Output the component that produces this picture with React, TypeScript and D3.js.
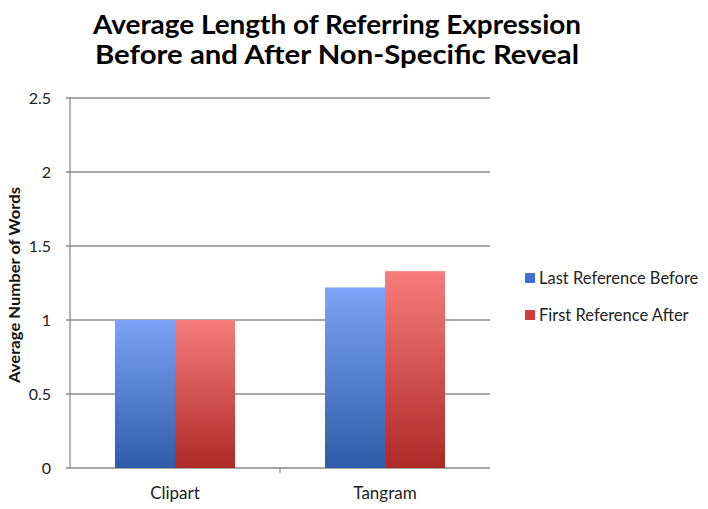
import React from 'react'
import * as d3 from 'd3'

const categories = ['Clipart', 'Tangram']
const seriesNames = ['Last Reference Before', 'First Reference After']
const lastBefore = [1.0, 1.22]
const firstAfter = [1.0, 1.33]
const yTicks = [0, 0.5, 1, 1.5, 2, 2.5]

const W = 708
const H = 509
const m = { left: 70, right: 490, top: 98, bottom: 468 }
const font = 'Lato, Carlito, "Open Sans", sans-serif'

const gradients = [
  { id: 'gBlue', top: '#7ea2f7', bottom: '#2e5ca8' },
  { id: 'gRed', top: '#f87c7c', bottom: '#ad2a28' },
]
const legendColors = ['#3f6fd0', '#d23c3c']

const App = () => {
  const x = d3.scaleBand().domain(categories).range([m.left, m.right])
  const inner = d3.scaleBand().domain(seriesNames).range([0, x.bandwidth()]).paddingOuter(0.75)
  const y = d3.scaleLinear().domain([0, 2.5]).range([m.bottom, m.top])
  const series = [lastBefore, firstAfter]

  return (
    <svg width={W} height={H} style={{ position: 'absolute', left: 0, top: 0, background: '#fff' }}>
      <defs>
        {gradients.map(g => (
          <linearGradient key={g.id} id={g.id} x1="0" y1="0" x2="0" y2="1">
            <stop offset="0%" stopColor={g.top} />
            <stop offset="100%" stopColor={g.bottom} />
          </linearGradient>
        ))}
      </defs>
      <text x={337} y={34} textAnchor="middle" fontFamily={font} fontWeight="bold" fontSize={26}
        textLength={488} lengthAdjust="spacingAndGlyphs">Average Length of Referring Expression</text>
      <text x={337} y={64} textAnchor="middle" fontFamily={font} fontWeight="bold" fontSize={26}
        textLength={484} lengthAdjust="spacingAndGlyphs">Before and After Non-Specific Reveal</text>

      {yTicks.map(t => (
        <g key={t}>
          <line x1={m.left - 4} x2={m.right} y1={y(t)} y2={y(t)} stroke="#8a8a8a" strokeWidth={1.3} />
          <text x={51} y={y(t) + 5.5} textAnchor="end" fontFamily={font} fontSize={16} fill="#222">{t}</text>
        </g>
      ))}
      <line x1={m.left} x2={m.left} y1={m.top} y2={m.bottom} stroke="#8a8a8a" strokeWidth={1.3} />
      <line x1={x('Tangram')} x2={x('Tangram')} y1={m.bottom} y2={m.bottom + 5} stroke="#8a8a8a" strokeWidth={1.3} />

      {categories.map((c, ci) =>
        series.map((s, si) => {
          const bx = (x(c) || 0) + (inner(seriesNames[si]) || 0)
          return (
            <rect key={c + si} x={bx} y={y(s[ci])} width={inner.bandwidth()} height={y(0) - y(s[ci])}
              fill={`url(#${gradients[si].id})`} />
          )
        })
      )}

      {categories.map(c => (
        <text key={c} x={(x(c) || 0) + x.bandwidth() / 2} y={499} textAnchor="middle" fontFamily={font}
          fontSize={17} fill="#222">{c}</text>
      ))}

      <text transform={`translate(20,285) rotate(-90)`} textAnchor="middle" fontFamily={font} fontWeight="bold"
        fontSize={16} textLength={196} lengthAdjust="spacingAndGlyphs" fill="#111">Average Number of Words</text>

      {seriesNames.map((n, i) => (
        <g key={n} transform={`translate(525,${273 + i * 37})`}>
          <rect x={0} y={0} width={10} height={10} fill={legendColors[i]} />
          <text x={14} y={10.5} fontFamily={font} fontSize={16.5} fill="#222">{n}</text>
        </g>
      ))}
    </svg>
  )
}

export default App
